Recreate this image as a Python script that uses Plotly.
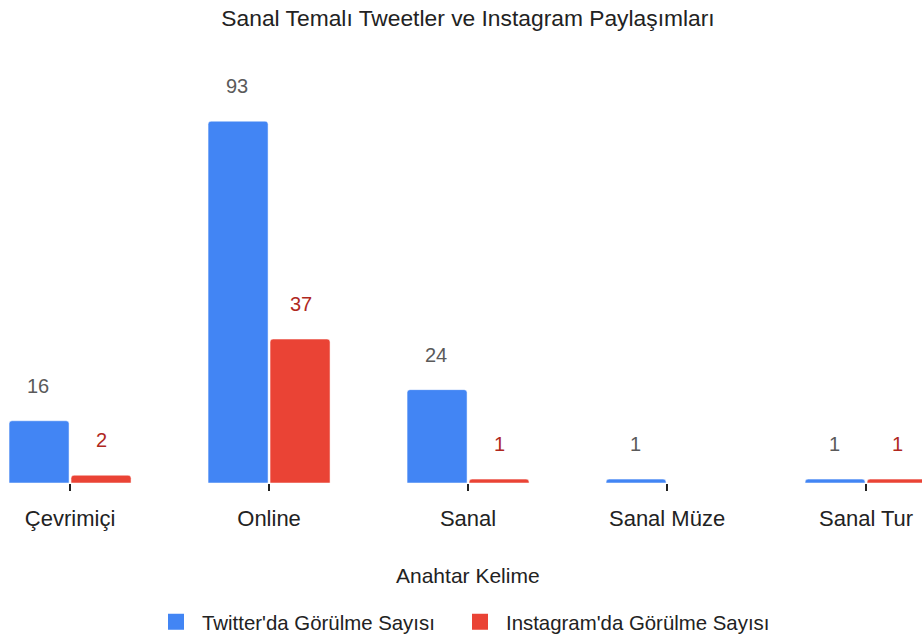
import plotly.graph_objects as go

# Keywords and counts
keywords = ['Çevrimiçi', 'Online', 'Sanal', 'Sanal Müze', 'Sanal Tur']
twitter_counts = [16, 93, 24, 1, 1]
instagram_counts = [2, 37, 1, None, 1]

twitter_name = "Twitter'da Görülme Sayısı"
instagram_name = "Instagram'da Görülme Sayısı"

blue = '#4285F4'
red = '#EA4335'

fig = go.Figure()

fig.add_trace(go.Bar(
    x=keywords,
    y=twitter_counts,
    name=twitter_name,
    marker=dict(color=blue, cornerradius=3),
    showlegend=False,
))

fig.add_trace(go.Bar(
    x=keywords,
    y=instagram_counts,
    name=instagram_name,
    marker=dict(color=red, cornerradius=3),
    showlegend=False,
))

# legend-only entries so the swatches can be bigger squares,
# one legend each so the spacing can follow the original
for name, color, leg in [(twitter_name, blue, 'legend'),
                         (instagram_name, red, 'legend2')]:
    fig.add_trace(go.Scatter(
        x=[None], y=[None], mode='markers', name=name, legend=leg,
        marker=dict(symbol='square', size=16, color=color, line_width=0),
    ))

# value labels floating above the bars
for i, v in enumerate(twitter_counts):
    if v is not None:
        fig.add_annotation(x=i - 0.16, y=v, text=str(v), showarrow=False,
                           yshift=35, font=dict(size=20, color='#5a5a5a'))
for i, v in enumerate(instagram_counts):
    if v is not None:
        fig.add_annotation(x=i + 0.16, y=v, text=str(v), showarrow=False,
                           yshift=35, font=dict(size=20, color='#b0281e'))

# x axis title (sits a little right of the plot centre in the original)
fig.add_annotation(text='Anahtar Kelime', xref='paper', yref='paper',
                   x=0.5076, y=-0.2125, xanchor='center', yanchor='middle',
                   showarrow=False, font=dict(size=21, color='#222222'))

legend_style = dict(
    orientation='h',
    xanchor='left',
    y=-0.321,
    yanchor='middle',
    font=dict(size=20.4, color='#222222'),
    itemwidth=42,
    itemsizing='trace',
    bgcolor='rgba(0,0,0,0)',
)

fig.update_layout(
    width=922,
    height=641,
    template='plotly_white',
    font=dict(family='Arial, Liberation Sans, sans-serif', color='#222222'),
    title=dict(text='Sanal Temalı Tweetler ve Instagram Paylaşımları',
               x=0.5076, xanchor='center', y=0.972, yanchor='middle',
               font=dict(size=22.8, color='#222222')),
    barmode='group',
    bargap=0.377,
    bargroupgap=0.032,
    margin=dict(l=0, r=0, t=50, b=158, autoexpand=False),
    plot_bgcolor='white',
    paper_bgcolor='white',
    xaxis=dict(
        type='category',
        range=[-0.352, 4.281],
        showgrid=False,
        showline=False,
        zeroline=False,
        ticks='outside',
        ticklen=7,
        tickwidth=2,
        tickcolor='#222222',
        ticklabelstandoff=9,
        tickfont=dict(size=22, color='#222222'),
    ),
    yaxis=dict(
        range=[0, 111.3],
        visible=False,
        showgrid=False,
        zeroline=False,
    ),
    legend=dict(x=0.1627, **legend_style),
    legend2=dict(x=0.4924, **legend_style),
    showlegend=True,
)

fig.write_html('out.html', config={'displayModeBar': False},
               post_script="document.body.style.margin='0';")
